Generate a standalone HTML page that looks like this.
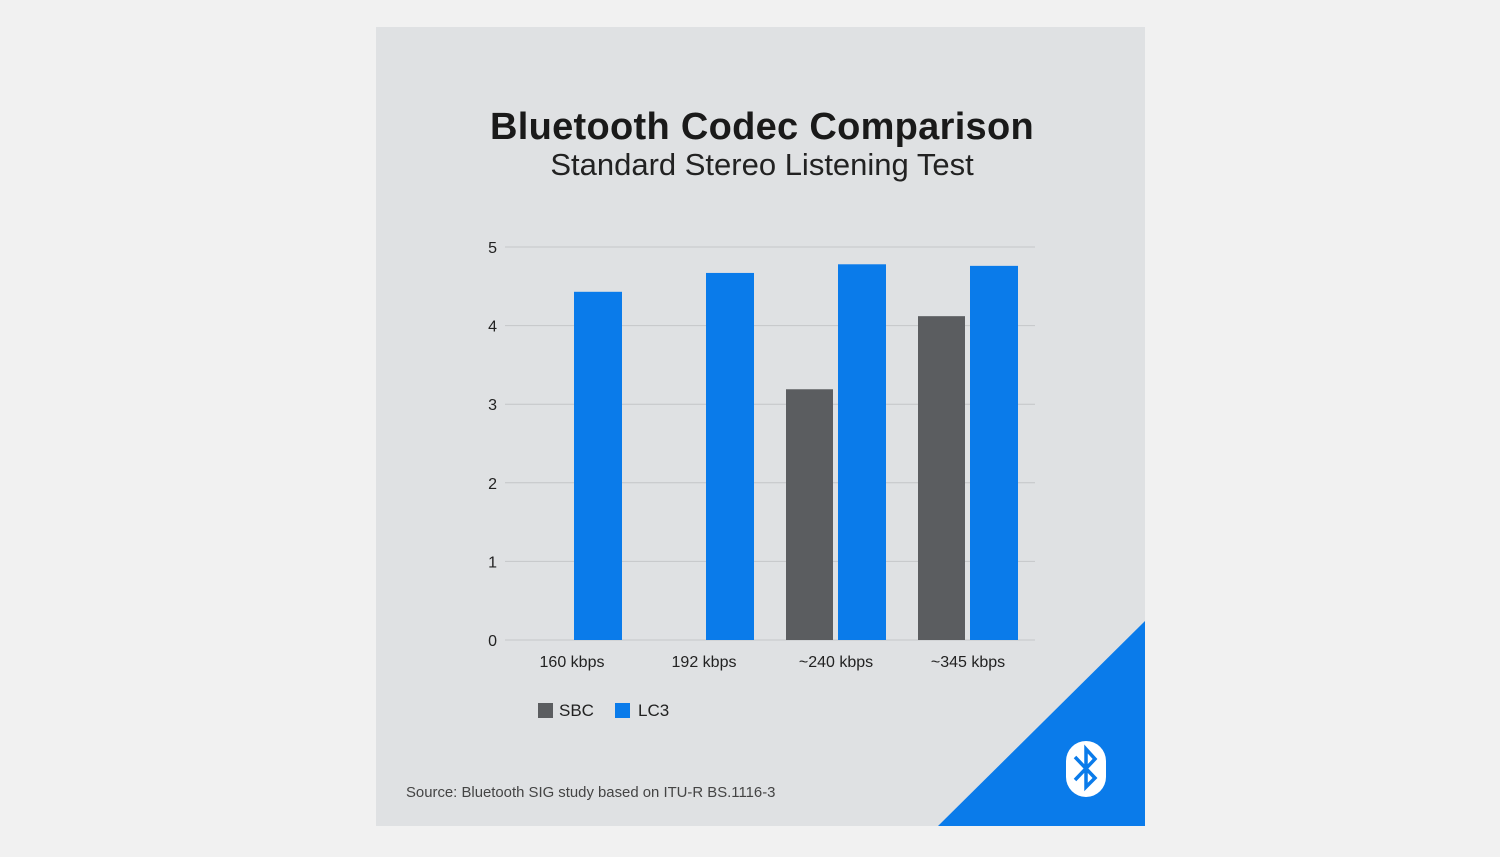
<!DOCTYPE html>
<html><head><meta charset="utf-8"><style>
body{margin:0;width:1500px;height:857px;background:#f1f1f1;font-family:"Liberation Sans",sans-serif;overflow:hidden}
#card{position:absolute;left:376px;top:27px;width:769px;height:799px;background:#dfe1e3;overflow:hidden}
</style></head><body>
<div id="card">
<svg width="769" height="799" viewBox="376 27 769 799" style="position:absolute;left:0;top:0">
<text x="762" y="139" text-anchor="middle" font-size="38" font-weight="bold" letter-spacing="0.3" fill="#1a1a1a">Bluetooth Codec Comparison</text>
<text x="762" y="175" text-anchor="middle" font-size="31" fill="#222">Standard Stereo Listening Test</text>
<g id="grid"></g><g id="bars"></g><g id="xl"></g>
<g>
<rect x="538" y="703" width="15" height="15" fill="#5b5d60"/>
<text x="559" y="716" font-size="17" fill="#222">SBC</text>
<rect x="615" y="703" width="15" height="15" fill="#0a7bea"/>
<text x="638" y="716" font-size="17" fill="#222">LC3</text>
</g>
<text x="406" y="797" font-size="14.9" fill="#444">Source: Bluetooth SIG study based on ITU-R BS.1116-3</text>
<polygon points="938,826 1145,826 1145,621" fill="#0a7bea"/>
<g>
<rect x="1066" y="741" width="40" height="56" rx="20" fill="#fff"/>
<polyline points="1075,757 1095,778 1086,787 1086,749 1095,759 1075,780" fill="none" stroke="#0a7bea" stroke-width="3.5"/>
</g>
</svg>
</div>
<script>
const categories=["160 kbps","192 kbps","~240 kbps","~345 kbps"];
const sbc=[null,null,3.19,4.12];
const lc3=[4.43,4.67,4.78,4.76];
const ticks=[0,1,2,3,4,5];
const NS="http://www.w3.org/2000/svg";
const y=v=>640-v*78.6;
const xc=i=>572+i*132;
function mk(t,a,p){const e=document.createElementNS(NS,t);for(const k in a)e.setAttribute(k,a[k]);p.appendChild(e);return e;}
const g=document.getElementById('grid'),b=document.getElementById('bars'),xl=document.getElementById('xl');
ticks.forEach(t=>{
 const l=mk('line',{x1:505,x2:1035,y1:y(t),y2:y(t),stroke:'#c4c6c8','stroke-width':1},g);
 
 
 const tx=mk('text',{x:497,y:y(t)+6,'text-anchor':'end','font-size':16,fill:'#222'},g);
 tx.textContent=t;
 
 
});
categories.forEach((c,i)=>{
 if(sbc[i]!=null){
  const r=mk('rect',{x:xc(i)-50,y:y(sbc[i]),width:47,height:y(0)-y(sbc[i]),fill:'#5b5d60'},b);
  
  
 }
 const r2=mk('rect',{x:xc(i)+2,y:y(lc3[i]),width:48,height:y(0)-y(lc3[i]),fill:'#0a7bea'},b);
 
 
 const t=mk('text',{x:xc(i),y:667,'text-anchor':'middle','font-size':16,fill:'#222'},xl);
 t.textContent=c;
 
 
});
</script>
</body></html>
